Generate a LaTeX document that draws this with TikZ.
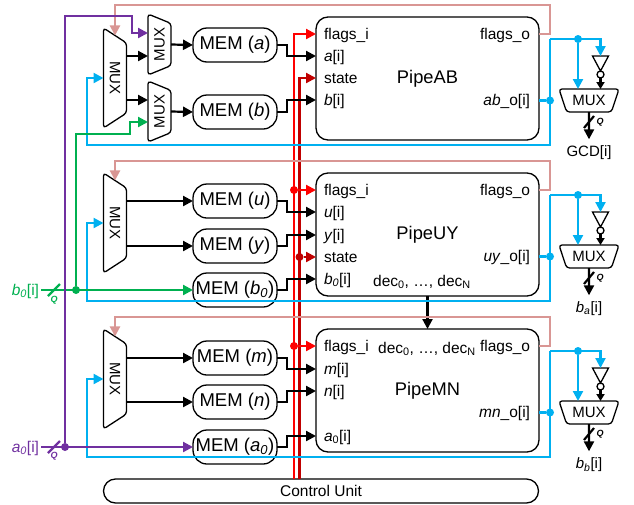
\documentclass[tikz,border=0pt]{standalone}
\usepackage{fontspec}
\setmainfont{Liberation Sans}
\usepackage{tikz}
\usetikzlibrary{shapes.geometric, arrows.meta, positioning}
\definecolor{busblue}{HTML}{00B0F0}
\definecolor{busgreen}{HTML}{00B050}
\definecolor{buspurple}{HTML}{7030A0}
\definecolor{buspink}{HTML}{D99694}
\definecolor{busdark}{HTML}{C00000}

\begin{document}
\begin{tikzpicture}[x=1pt, y=-1pt, >={Triangle[length=10pt,width=10pt]}]
    \tikzset{pipe/.style={draw, line width=1.3pt, rounded corners=12pt, minimum width=223pt, minimum height=123pt, inner sep=0pt, outer sep=0pt, font=\fontsize{18.3}{20}\selectfont},
        mem/.style={draw, line width=1.3pt, rounded corners=14pt, minimum width=84pt, minimum height=34pt, inner sep=0pt, outer sep=0pt, font=\fontsize{18.5}{20}\selectfont},
        bigmux/.style={draw, line width=1.3pt, trapezium, rounded corners=3pt, trapezium left angle=35, trapezium right angle=35, trapezium stretches body, minimum width=100pt, minimum height=23pt, inner sep=0pt, outer sep=0pt, rotate=-90, font=\fontsize{15}{17}\selectfont},
        smallmux/.style={draw, line width=1.3pt, trapezium, rounded corners=3pt, trapezium left angle=48, trapezium right angle=48, trapezium stretches body, minimum width=61pt, minimum height=23pt, inner sep=0pt, outer sep=0pt, shape border rotate=180, rotate=90, font=\fontsize{15}{17}\selectfont},
        outmux/.style={draw, line width=1.3pt, trapezium, rounded corners=3pt, trapezium left angle=54, trapezium right angle=54, trapezium stretches body, minimum width=60pt, minimum height=23pt, inner sep=0pt, outer sep=0pt, shape border rotate=180, font=\fontsize{15}{17}\selectfont},
        inv/.style={draw, line width=1.3pt, isosceles triangle, isosceles triangle stretches, shape border rotate=-90, minimum width=16pt, minimum height=15pt, inner sep=0pt, outer sep=0pt, anchor=lower side},
        bubble/.style={draw, line width=1.3pt, circle, minimum size=7pt, inner sep=0pt, outer sep=0pt},
        dot/.style={circle, minimum size=8pt, inner sep=0pt, outer sep=0pt},
        port/.style={inner sep=0pt, outer sep=0pt, text height=11pt, text depth=1pt, font=\fontsize{15.5}{17}\selectfont},
        portl/.style={port, anchor=west},
        portr/.style={port, anchor=east},
        tiny/.style={inner sep=0pt, font=\fontsize{9}{10}\selectfont\bfseries\itshape},
        wire/.style={line width=2.2pt}
    }
    \useasboundingbox (0,0) rectangle (634,504);

    % pipes, outputs
    \foreach \i/\y/\ol/\ot in {AB/17/{\textit{ab}\_o[i]}/{GCD[i]}, UY/173/{\textit{uy}\_o[i]}/{\textit{b}\textsubscript{\textit{a}}[i]}, MN/329/{\textit{mn}\_o[i]}/{\textit{b}\textsubscript{\textit{b}}[i]}} {
        \node (Pipe\i) [pipe] at (427.5,\y+61.5) {Pipe\i};
        \node (\i-flagsi) [portl] at (324,\y+17) {flags\_i};
        \node (\i-flagso) [portr] at (530,\y+17) {flags\_o};
        \node (\i-out) [portr] at (530,\y+83.5) {\ol};
        \node (OutMux\i) [outmux] at (589,\y+83.5) {MUX};
        \node (Inv\i) [inv] at (600.5,\y+39) {};
        \node (Bub\i) [bubble, below=0pt of Inv\i.apex] {};
        \node (Out\i) [font=\fontsize{15}{17}\selectfont, inner sep=0pt] at (589,\y+135.5) {\ot};
        \node (Q\i) [tiny] at (600,\y+105) {Q};
        \coordinate (Turn\i) at (550,\y+22);
        \coordinate (Tap\i) at (578,\y+22);
        \coordinate (Low\i) at (87,\y+128);
        \coordinate (Rise\i) at (550,\y-12);
        \coordinate (Cut\i) at (589,\y+105);
    }
    \node (AB-a) [portl] at (324,56) {\textit{a}[i]};
    \node (AB-state) [portl] at (324,78) {state};
    \node (AB-b) [portl] at (324,100) {\textit{b}[i]};
    \node (UY-u) [portl] at (324,212) {\textit{u}[i]};
    \node (UY-y) [portl] at (324,235) {\textit{y}[i]};
    \node (UY-state) [portl] at (324,257) {state};
    \node (UY-b) [portl] at (324,279) {\textit{b\textsubscript{0}}[i]};
    \node (UY-dec) [port] at (422,281) {dec\textsubscript{0}, \dots, dec\textsubscript{N}};
    \node (MN-m) [portl] at (324,369) {\textit{m}[i]};
    \node (MN-n) [portl] at (324,391) {\textit{n}[i]};
    \node (MN-a) [portl] at (324,436) {\textit{a}\textsubscript{0}[i]};
    \node (MN-dec) [port] at (427,348) {dec\textsubscript{0}, \dots, dec\textsubscript{N}};

    % left side
    \node (MuxAB) [bigmux] at (115,78) {MUX};
    \node (MuxUY) [bigmux] at (115,223) {MUX};
    \node (MuxMN) [bigmux] at (115,379) {MUX};
    \node (MuxA) [smallmux] at (159.5,44.5) {MUX};
    \node (MuxB) [smallmux] at (159.5,111.5) {MUX};
    \node (MemA) [mem] at (235,45) {MEM (\textit{a})};
    \node (MemB) [mem] at (235,112) {MEM (\textit{b})};
    \node (MemU) [mem] at (235,201) {MEM (\textit{u})};
    \node (MemY) [mem] at (235,246) {MEM (\textit{y})};
    \node (MemB0) [mem] at (235,290) {MEM (\textit{b\textsubscript{0}})};
    \node (MemM) [mem] at (235,358) {MEM (\textit{m})};
    \node (MemN) [mem] at (235,402) {MEM (\textit{n})};
    \node (MemA0) [mem] at (235,447) {MEM (\textit{a\textsubscript{0}})};
    \node (Ctrl) [draw, line width=1.3pt, rounded corners=12pt, minimum width=435pt, minimum height=24pt, inner sep=0pt, outer sep=0pt, font=\fontsize{15.5}{17}\selectfont] at (321,491) {Control Unit};
    \node (InB) [portr, busgreen, inner xsep=2pt] at (41,290) {\textit{b\textsubscript{0}}[i]};
    \node (InA) [portr, buspurple, inner xsep=2pt] at (41,447) {\textit{a\textsubscript{0}}[i]};
    \node (QB) [tiny, busgreen] at (54,300) {Q};
    \node (QA) [tiny, buspurple] at (54,456) {Q};
    \coordinate (MuxA-p) at (148,33);
    \coordinate (MuxA-q) at (148,56);
    \coordinate (MuxB-p) at (148,100);
    \coordinate (MuxB-q) at (148,122);
    \coordinate (CutB) at (54,290);
    \coordinate (CutA) at (54,447);
    \coordinate (PurpleTop) at (65,16);
    \coordinate (PurpleKnee) at (132,16);
    \coordinate (GreenKnee) at (130,134);
    \coordinate (RedTop) at (294,33);
    \coordinate (DarkTop) at (299.5,78);

    % control lines
    \draw [wire, red, ->] (Ctrl.north -| RedTop) |- (PipeAB.west |- AB-flagsi);
    \draw [wire, busdark, ->] (Ctrl.north -| DarkTop) |- (PipeAB.west |- AB-state);
    \node (DotUYf) [dot, fill=red] at (RedTop |- UY-flagsi) {};
    \node (DotMNf) [dot, fill=red] at (RedTop |- MN-flagsi) {};
    \node (DotUYs) [dot, fill=busdark] at (DarkTop |- UY-state) {};
    \draw [wire, red, ->] (DotUYf) -- (PipeUY.west |- UY-flagsi);
    \draw [wire, red, ->] (DotMNf) -- (PipeMN.west |- MN-flagsi);
    \draw [wire, busdark, ->] (DotUYs) -- (PipeUY.west |- UY-state);

    % black wires
    \draw [wire, ->] (MuxAB.north |- MuxA-q) -- (MuxA-q);
    \draw [wire, ->] (MuxAB.north |- MuxB-p) -- (MuxB-p);
    \draw [wire, ->] (MuxA.south) -- (MemA.west);
    \draw [wire, ->] (MuxB.south) -- (MemB.west);
    \draw [wire, ->] (MuxUY.north |- MemU.west) -- (MemU.west);
    \draw [wire, ->] (MuxUY.north |- MemY.west) -- (MemY.west);
    \draw [wire, ->] (MuxMN.north |- MemM.west) -- (MemM.west);
    \draw [wire, ->] (MuxMN.north |- MemN.west) -- (MemN.west);
    \foreach \m/\p/\t in {MemA/AB/AB-a, MemB/AB/AB-b, MemU/UY/UY-u, MemY/UY/UY-y, MemB0/UY/UY-b, MemM/MN/MN-m, MemN/MN/MN-n, MemA0/MN/MN-a} {
        \draw [wire, ->] (\m.east) -- ++(10,0) |- (Pipe\p.west |- \t);
    }
    \draw [wire, ->] (PipeUY.south) -- (PipeMN.north);

    % feedback, outputs
    \foreach \i in {AB, UY, MN} {
        \draw [wire, buspink, ->] (Pipe\i.east |- \i-flagso) -| (Rise\i) -| (Mux\i.west);
        \node (Dot\i) [dot, fill=busblue] at (Turn\i |- \i-out) {};
        \node (TapDot\i) [dot, fill=busblue] at (Tap\i) {};
        \draw [wire, busblue] (Pipe\i.east |- Dot\i) -- (Dot\i);
        \draw [wire, busblue, ->] (Turn\i) |- (Low\i) |- (Mux\i.south);
        \draw [wire, busblue, ->] (Turn\i) -| (Inv\i.lower side);
        \draw [wire, busblue, ->] (TapDot\i) -- (TapDot\i |- OutMux\i.north);
        \draw [wire, -{Triangle[length=7pt,width=8pt]}] (Bub\i.south) -- (Bub\i.south |- OutMux\i.north);
        \draw [wire, ->, shorten >=6pt] (OutMux\i.south) -- (Out\i.north);
        \draw [wire] (Cut\i) ++(-5,6) -- ++(10,-12);
    }

    % inputs
    \draw [wire, busgreen, ->] (InB.east) -- (MemB0.west);
    \node (DotB) [dot, fill=busgreen] at (76,290) {};
    \draw [wire, busgreen, ->] (DotB) |- (GreenKnee) |- (MuxB-q);
    \draw [wire, busgreen] (CutB) ++(-6,6) -- ++(12,-12);
    \draw [wire, buspurple, ->] (InA.east) -- (MemA0.west);
    \node (DotA) [dot, fill=buspurple] at (PurpleTop |- InA) {};
    \draw [wire, buspurple, ->] (DotA) |- (PurpleKnee) |- (MuxA-p);
    \draw [wire, buspurple] (CutA) ++(-6,6) -- ++(12,-12);
\end{tikzpicture}
\end{document}
